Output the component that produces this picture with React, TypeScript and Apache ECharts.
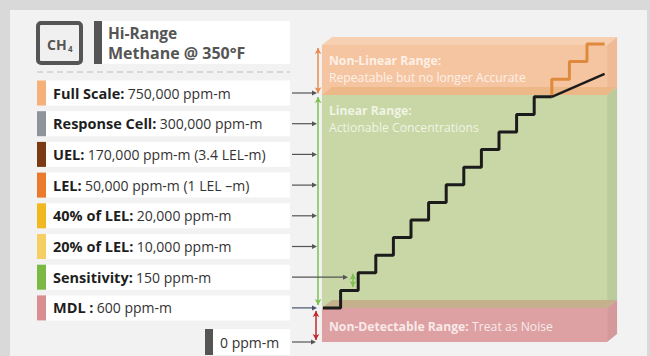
import React, { useEffect, useRef } from 'react';
import * as echarts from 'echarts';

const FONT = "'Open Sans', sans-serif";

// Left panel rows
const rowLabels = ['Full Scale:', 'Response Cell:', 'UEL:', 'LEL:', '40% of LEL:', '20% of LEL:', 'Sensitivity:', 'MDL :'];
const rowValues = ['750,000 ppm-m', '300,000 ppm-m', '170,000 ppm-m (3.4 LEL-m)', '50,000 ppm-m (1 LEL \u2013m)', '20,000 ppm-m', '10,000 ppm-m', '150 ppm-m', '600 ppm-m'];
const rowColors = ['#f6b07a', '#8f949a', '#7b3a14', '#ea7a2e', '#f0b821', '#f5cf63', '#7aba44', '#d98f90'];
const zeroLabel = '0 ppm-m';

// Range boxes (in response levels)
const bandTitles = ['Non-Linear Range:', 'Linear Range:', 'Non-Detectable Range:'];
const bandNotes = ['Repeatable but no longer Accurate', 'Actionable Concentrations', 'Treat as Noise'];
const bandFrom = [12.1, 0, -1.93];
const bandTo = [14.94, 12.1, 0];
const boxX = [-0.06, 16.14];

// Sensor response staircase
const stairX = [0, 1, 2, 3, 4, 5, 6, 7, 8, 9, 10, 11, 12, 13];
const stairY = [0, 1, 2, 3, 4, 5, 6, 7, 8, 9, 10, 11, 12, 12];
const slopeX = [13, 16];
const slopeY = [12, 13.3];
const nonLinX = [13, 14, 15, 16];
const nonLinY = [12, 13, 14, 15];

const faceColors = [
  { front: '#f5c5a2', top: '#f7d0b2', side: '#eebb95', text: '#fdf0e6' },
  { front: '#c9d6a6', top: '#ecb888', side: '#bccb9b', text: '#eff4e3' },
  { front: '#dda1a3', top: '#c5b08e', side: '#d4999b', text: '#fae9e9' },
];

function buildGraphic() {
  const els: any[] = [];
  // header
  els.push({ type: 'rect', z: 100, shape: { x: 38, y: 23, width: 43, height: 40, r: 3 }, style: { fill: '#f0f0f0', stroke: '#555', lineWidth: 4 } });
  els.push({ type: 'text', z: 101, x: 47, y: 44, style: { text: 'CH', font: `bold 14px ${FONT}`, fill: '#555', verticalAlign: 'middle' } });
  els.push({ type: 'text', z: 101, x: 68, y: 48, style: { text: '4', font: `bold 8px ${FONT}`, fill: '#555', verticalAlign: 'middle' } });
  els.push({ type: 'rect', z: 100, shape: { x: 94, y: 21, width: 8, height: 43 }, style: { fill: '#555' } });
  els.push({ type: 'rect', z: 100, shape: { x: 102, y: 21, width: 188, height: 43 }, style: { fill: '#fff' } });
  els.push({ type: 'text', z: 101, x: 108, y: 33, style: { text: 'Hi-Range', font: `bold 15.5px ${FONT}`, fill: '#555', verticalAlign: 'middle' } });
  els.push({ type: 'text', z: 101, x: 108, y: 53, style: { text: 'Methane @ 350\u00b0F', font: `bold 16px ${FONT}`, fill: '#555', verticalAlign: 'middle' } });
  els.push({ type: 'line', z: 100, shape: { x1: 37, y1: 72, x2: 290, y2: 72 }, style: { stroke: '#cfcfcf', lineWidth: 1.5, lineDash: [6, 4] } });

  const arrow = (y: number, x1: number, x2: number, color = '#555') => {
    els.push({ type: 'line', z: 120, shape: { x1, y1: y, x2: x2 - 4, y2: y }, style: { stroke: color, lineWidth: 1.2 } });
    els.push({ type: 'polygon', z: 120, shape: { points: [[x2 - 5, y - 2.5], [x2, y], [x2 - 5, y + 2.5]] }, style: { fill: color } });
  };

  rowLabels.forEach((lab, i) => {
    const cy = 93 + i * 30.7;
    els.push({ type: 'rect', z: 100, shape: { x: 37, y: cy - 12.5, width: 9, height: 25 }, style: { fill: rowColors[i] } });
    els.push({ type: 'rect', z: 100, shape: { x: 46, y: cy - 12.5, width: 244, height: 25 }, style: { fill: '#fff' } });
    els.push({
      type: 'text', z: 101, x: 53, y: cy,
      style: {
        text: `{b|${lab}} {r|${rowValues[i]}}`, verticalAlign: 'middle',
        rich: {
          b: { font: `bold 14.5px ${FONT}`, fill: '#1e1e1e' },
          r: { font: `14px ${FONT}`, fill: '#333' },
        },
      },
    });
    const isSens = lab.startsWith('Sensitivity');
    arrow(cy, 292, isSens ? 348 : 317, i === 7 ? '#44536b' : '#555');
  });
  // zero row
  els.push({ type: 'rect', z: 100, shape: { x: 205, y: 329, width: 8, height: 26 }, style: { fill: '#555' } });
  els.push({ type: 'rect', z: 100, shape: { x: 213, y: 329, width: 77, height: 26 }, style: { fill: '#fff' } });
  els.push({ type: 'text', z: 101, x: 220, y: 342, style: { text: zeroLabel, font: `14px ${FONT}`, fill: '#333', verticalAlign: 'middle' } });
  arrow(342, 292, 316);
  return els;
}

function renderBox(params: any, api: any) {
  const i = params.dataIndex;
  const c = faceColors[i];
  const bl = api.coord([api.value(0), api.value(2)]);
  const tr = api.coord([api.value(1), api.value(3)]);
  const dx = 10, dy = -8;
  const x0 = bl[0], y0 = tr[1], x1 = tr[0], y1 = bl[1];
  const children: any[] = [
    { type: 'polygon', shape: { points: [[x0, y0], [x0 + dx, y0 + dy], [x1 + dx, y0 + dy], [x1, y0]] }, style: { fill: c.top } },
    { type: 'rect', shape: { x: x0, y: y0, width: x1 - x0, height: y1 - y0 }, style: { fill: c.front } },
    { type: 'polygon', shape: { points: [[x1, y0], [x1 + dx, y0 + dy], [x1 + dx, y1 + dy], [x1, y1]] }, style: { fill: c.side } },
  ];
  if (i === 2) {
    children.push({
      type: 'text', x: x0 + 7, y: y0 + 18,
      style: {
        text: `{b|${bandTitles[i]}} {r|${bandNotes[i]}}`, verticalAlign: 'middle',
        rich: { b: { font: `bold 12.2px ${FONT}`, fill: c.text }, r: { font: `12.2px ${FONT}`, fill: c.text } },
      },
    });
  } else {
    children.push({ type: 'text', x: x0 + 7, y: y0 + 15, style: { text: bandTitles[i], font: `bold 12.2px ${FONT}`, fill: c.text, verticalAlign: 'middle' } });
    children.push({ type: 'text', x: x0 + 7, y: y0 + 32, style: { text: bandNotes[i], font: `12.2px ${FONT}`, fill: c.text, verticalAlign: 'middle' } });
  }
  return { type: 'group', children };
}

export default function App() {
  const ref = useRef<HTMLDivElement>(null);
  useEffect(() => {
    if (!ref.current) return;
    const chart = echarts.init(ref.current, undefined, { renderer: 'svg' });
    const arrowLine = (x: number, ya: number, yb: number, color: string) => [
      { coord: [x, ya], lineStyle: { color, width: 1.5, type: 'solid' } },
      { coord: [x, yb] },
    ];
    chart.setOption({
      animation: false,
      backgroundColor: 'transparent',
      grid: { left: 287.8, top: 26.4, width: 334.4, height: 325.6 },
      xAxis: { type: 'value', min: -2, max: 17, show: false, splitLine: { show: false } },
      yAxis: { type: 'value', min: -2.5, max: 16, show: false, splitLine: { show: false } },
      graphic: { elements: buildGraphic() },
      series: [
        {
          type: 'custom',
          renderItem: renderBox,
          clip: false,
          silent: true,
          encode: { x: [0, 1], y: [2, 3] },
          data: bandFrom.map((f, i) => [boxX[0], boxX[1], f, bandTo[i]]),
          z: 1,
        },
        {
          type: 'line', step: 'start', symbol: 'none', silent: true, z: 3,
          lineStyle: { color: '#de8a3d', width: 3 },
          data: nonLinX.map((x, i) => [x, nonLinY[i]]),
        },
        {
          type: 'line', symbol: 'none', silent: true, z: 4,
          lineStyle: { color: '#1b1b1b', width: 2.5 },
          data: slopeX.map((x, i) => [x, slopeY[i]]),
        },
        {
          type: 'line', step: 'end', symbol: 'none', silent: true, z: 4,
          lineStyle: { color: '#1b1b1b', width: 3 },
          data: stairX.map((x, i) => [x, stairY[i]]),
          markLine: {
            silent: true,
            symbol: ['arrow', 'arrow'],
            symbolSize: [5, 6],
            label: { show: false },
            data: [
              arrowLine(-0.28, 14.77, 12.2, '#e98a4c'),
              arrowLine(-0.28, 11.99, 0.17, '#7cc24f'),
              arrowLine(-0.4, -0.17, -1.82, '#c0282d'),
              arrowLine(1.7, 1.2, 1.95, '#7cc24f'),
            ],
          },
        },
      ],
    });
    return () => chart.dispose();
  }, []);
  return (
    <div style={{ position: 'fixed', left: 0, top: 0, width: 650, height: 356, background: '#d9d9d9', overflow: 'hidden' }}>
      <div style={{ position: 'absolute', left: 10, top: 10, width: 637, height: 360, background: '#f2f2f2' }} />
      <div ref={ref} style={{ position: 'absolute', left: 0, top: 0, width: 650, height: 356 }} />
    </div>
  );
}
